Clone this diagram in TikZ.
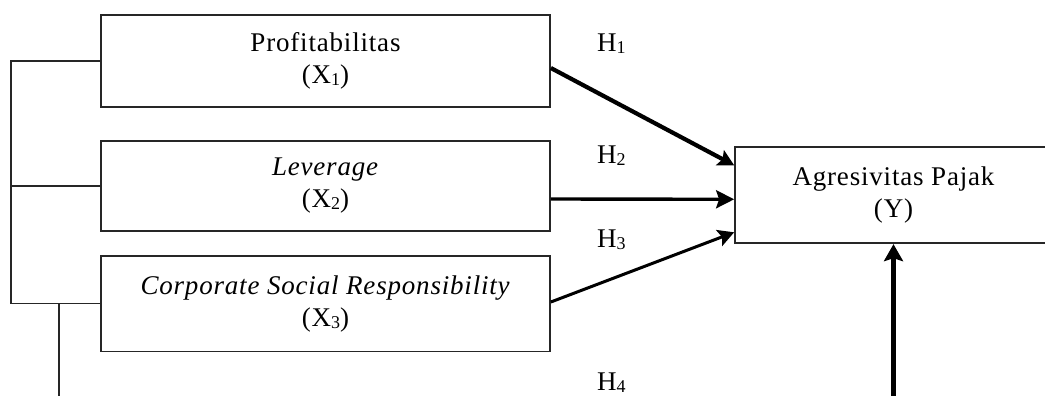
\documentclass[tikz,border=0pt]{standalone}
\usepackage{fontspec}
\setmainfont{Liberation Serif}[LetterSpace=3]
\usetikzlibrary{arrows.meta}

% lowered, smaller index digit as in X1, H1
\newcommand\lowidx[1]{{\fontsize{18pt}{18pt}\selectfont\raisebox{-2pt}{#1}}}

\begin{document}
\begin{tikzpicture}[x=1pt,y=-1pt,
  box/.style={draw=black!85, line width=1.7pt, inner sep=0pt, align=center,
              font=\fontsize{27pt}{32pt}\selectfont},
  link/.style={draw=black!85, line width=1.7pt},
  hlabel/.style={anchor=base west, inner sep=0pt,
                 font=\fontsize{27pt}{32pt}\selectfont},
  effect/.style={draw=black, line width=#1},
]
\useasboundingbox (0,0) rectangle (1045,396);
\clip (0,0) rectangle (1045,396);

% independent variables
\node[box, minimum width=449pt, minimum height=92.6pt] (x1) at (325.5,61)
  {Profitabilitas\\(X\lowidx{1})};
\node[box, minimum width=449pt, minimum height=90pt] (x2) at (325.5,186)
  {\textit{Leverage}\\(X\lowidx{2})};
\node[box, minimum width=449pt, minimum height=95.8pt] (x3) at (325.5,303.6)
  {\textit{Corporate Social Responsibility}\\(X\lowidx{3})};

% dependent variable
\node[box, minimum width=317pt, minimum height=96pt] (y) at (893.5,195.3)
  {Agresivitas Pajak\\(Y)};

% bracket joining the three variables
\coordinate (bus) at (10.7,0);
\coordinate (drop) at (59.3,400);
\draw[link] (x1.west) -- (x1.west -| bus) -- (x3.west -| bus) -- (x3.west);
\draw[link] (x2.west) -- (x2.west -| bus);
\draw[link] (drop |- x3.west) -- (drop);

% partial effects
\draw[effect=4.2pt, -{Stealth[length=16pt,width=17pt,inset=3pt]}]
  ([yshift=-7pt]x1.east) -- ([yshift=30pt]y.west);
\draw[effect=3.4pt, -{Stealth[length=18pt,width=18pt,inset=3pt]}]
  ([yshift=-13pt]x2.east) -- ([yshift=-4pt]y.west);
\draw[effect=3pt, -{Stealth[length=16pt,width=17pt,inset=3pt]}]
  ([yshift=1.6pt]x3.east) -- ([yshift=-37pt]y.west);

% simultaneous effect
\coordinate (rise) at (893.5,400);
\draw[effect=5.5pt, -{Stealth[length=17pt,width=19pt,inset=3pt]}]
  (rise) -- (y.south);

% hypothesis labels
\node[hlabel] (h1) at (597,52) {H\lowidx{1}};
\node[hlabel] (h2) at (597,163) {H\lowidx{2}};
\node[hlabel] (h3) at (597,247) {H\lowidx{3}};
\node[hlabel] (h4) at (597,390) {H\lowidx{4}};
\end{tikzpicture}
\end{document}
